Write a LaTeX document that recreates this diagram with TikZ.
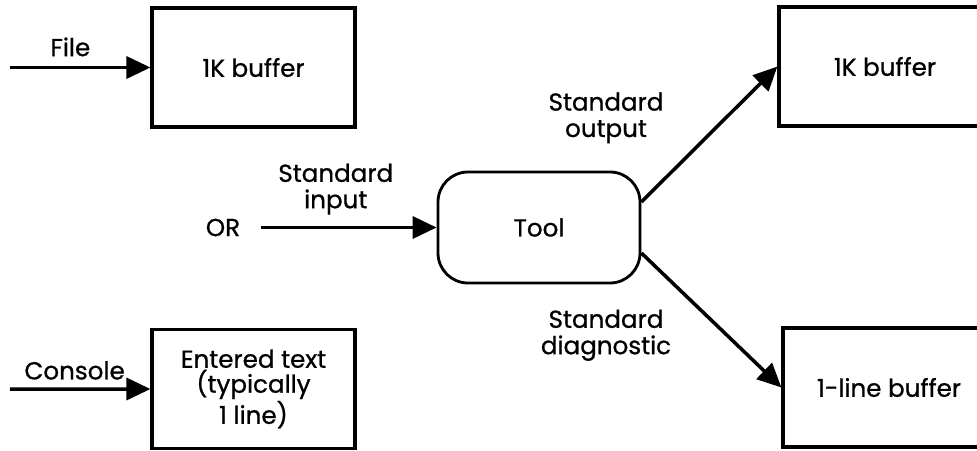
\documentclass[tikz,border=0pt]{standalone}
\usepackage{fontspec}
\setmainfont{Poppins}[FakeBold=0.8]
\usetikzlibrary{arrows.meta, positioning}
\tikzset{
    bufbox/.style={rectangle, draw=black, line width=1.8pt, minimum width=4.06cm, minimum height=2.38cm, text centered, align=center, font=\fontsize{14}{11.5}\selectfont},
    toolbox/.style={rectangle, rounded corners=0.6cm, draw=black, line width=1.6pt, minimum width=4.04cm, minimum height=2.22cm, text centered, font=\fontsize{14}{16}\selectfont},
    flowlabel/.style={align=center, font=\fontsize{14}{15}\selectfont},
    arrow/.style={line width=2pt, -{Triangle[length=0.48cm,width=0.44cm]}}
}
\begin{document}
\begin{tikzpicture}[node distance=3cm]
        % Frame
        \useasboundingbox (0,0) rectangle (19.54,-9);

        % File buffer
        \node (filebuf) [bufbox] at (5.07,-1.35) {1K buffer};

        % Console buffer
        \node (entered) [bufbox, below of=filebuf, yshift=-3.43cm] {Entered text\\(typically\\1 line)};

        % Tool
        \node (tool) [toolbox] at (10.78,-4.55) {Tool};

        % Output buffer
        \node (outbuf) [bufbox, minimum width=4.24cm, right of=tool, xshift=3.92cm, yshift=3.22cm] {1K buffer};

        % Diagnostic buffer
        \node (diagbuf) [bufbox, minimum width=4.24cm, below of=outbuf, xshift=0.08cm, yshift=-3.42cm] {1-line buffer};

        % Labels and free ends
        \node (orlbl) [flowlabel] at (4.46,-4.55) {OR};
        \node (outlbl) [flowlabel, above=0.42cm of tool, xshift=1.34cm] {Standard\\output};
        \node (diaglbl) [flowlabel, below=0.38cm of tool, xshift=1.34cm] {Standard\\diagnostic};
        \coordinate (filein) at (0.2,-1.35);
        \coordinate (consin) at (0.2,-7.78);

        % Connections
        \draw[arrow] (filein) -- node[flowlabel, above, pos=0.43, yshift=2pt] {File} (filebuf.west);
        \draw[arrow] (consin) -- node[flowlabel, above, pos=0.46, yshift=1pt] {Console} (entered.west);
        \draw[arrow, shorten <=0.3cm] (orlbl.east) -- node[flowlabel, above, pos=0.47, yshift=3pt] {Standard\\input} (tool.west);
        \draw[arrow] (tool.14) -- (outbuf.west);
        \draw[arrow] (tool.-14) -- (diagbuf.west);
    \end{tikzpicture}
\end{document}
